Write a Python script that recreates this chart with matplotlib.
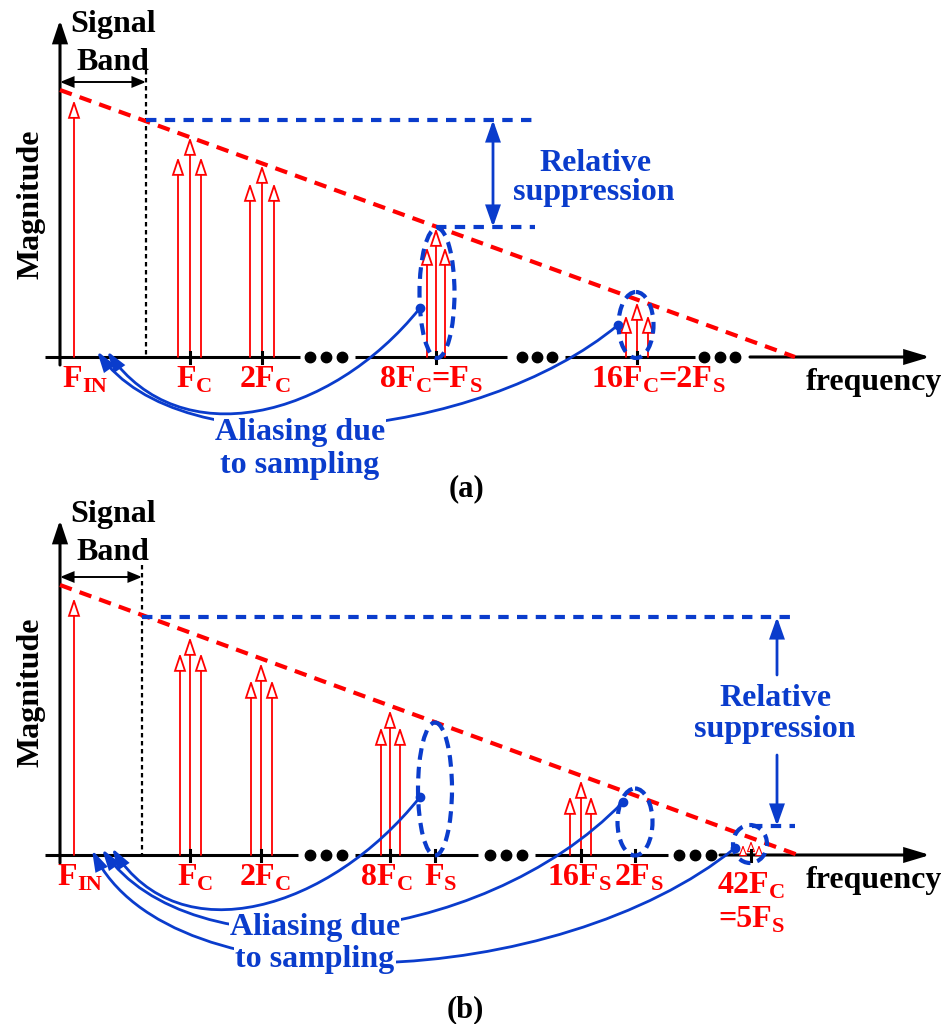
import numpy as np
import matplotlib
matplotlib.use('Agg')
import matplotlib.pyplot as plt
from matplotlib.patches import FancyArrowPatch, Ellipse, ArrowStyle
from matplotlib.path import Path

plt.rcParams['font.family'] = ['Liberation Serif', 'DejaVu Serif']
plt.rcParams['font.weight'] = 'bold'

RED = '#ff0000'
BLUE = '#0a3ccc'
FS = 23

# ---------------- data (pixel-like coordinates, y grows downward) ----------------
# panel (a)
a_base = 357
a_top = 20
a_band_x = 146
a_band_y = [70, 82]          # top of dashed line, double-arrow height
a_env = [(60, 90), (795, 357)]
a_fin = (74, 100)
a_groups_x = [[178, 190, 201], [250, 262, 274], [427, 436, 445], [626, 637, 648]]
a_groups_tip = [[157, 137, 157], [183, 165, 183], [247, 228, 247], [315, 302, 315]]
a_ticks = [190, 262, 436, 637]
a_axis_segs = [(45, 300), (355, 507), (565, 695), (750, 930)]
a_dots = [310, 326, 342, 522, 537, 552, 704, 720, 735]
a_ellipses = [(437, 293, 35, 130), (636, 325, 35, 66)]
a_supp = dict(top=120, bot=227, x0=146, x1=533, x2=436, x3=535, ax=493)
a_labels = [(85, [('F', 0), ('IN', 1)]), (194, [('F', 0), ('C', 1)]),
            (265, [('2F', 0), ('C', 1)]),
            (431, [('8F', 0), ('C', 1), ('=F', 0), ('S', 1)]),
            (658, [('16F', 0), ('C', 1), ('=2F', 0), ('S', 1)])]
a_label_y = 387
a_alias = [[(420, 308), (330, 420), (180, 455), (107, 351)],
           [(618, 325), (480, 440), (180, 470), (97, 351)]]

# panel (b)
b_base = 855
b_top = 520
b_band_x = 142
b_band_y = [565, 577]
b_env = [(60, 585), (798, 855)]
b_fin = (74, 598)
b_groups_x = [[180, 190, 201], [251, 261, 272], [381, 390, 400], [570, 581, 591], [743, 751, 759]]
b_groups_tip = [[653, 637, 653], [680, 663, 680], [727, 710, 727], [796, 780, 796], [845, 841, 845]]
b_ticks = [190, 261, 390, 435, 581, 635, 751]
b_axis_segs = [(45, 298), (355, 478), (535, 668), (720, 930)]
b_dots = [310, 326, 342, 490, 506, 522, 679, 695, 711]
b_ellipses = [(435, 789, 34, 133), (635, 822, 35, 67), (750, 844, 34, 38)]
b_supp = dict(top=617, bot=826, x0=142, x1=795, x2=752, x3=795, ax=777)
b_labels = [(80, [('F', 0), ('IN', 1)]), (195, [('F', 0), ('C', 1)]),
            (265, [('2F', 0), ('C', 1)]), (387, [('8F', 0), ('C', 1)]),
            (440, [('F', 0), ('S', 1)]), (579, [('16F', 0), ('S', 1)]),
            (639, [('2F', 0), ('S', 1)])]
b_label_y = 885
b_alias = [[(420, 797), (330, 910), (180, 955), (112, 848)],
           [(623, 802), (480, 950), (190, 975), (102, 849)],
           [(735, 848), (560, 990), (170, 1010), (92, 850)]]

# ---------------- figure ----------------
fig = plt.figure(figsize=(9.47, 10.24), dpi=100)
ax = fig.add_axes([0, 0, 1, 1])
ax.set_xlim(0, 947)
ax.set_ylim(1024, 0)
ax.axis('off')
renderer = fig.canvas.get_renderer()


def arrow(p0, p1, color, lw, hl, hw, fc=None, style='-|>', z=3, path=None):
    # hl = head length in px, hw = full head width in px
    st = ArrowStyle(style, head_length=hl * 0.72, head_width=hw * 0.36)
    kw = dict(arrowstyle=st, mutation_scale=1, color=color, lw=lw,
              shrinkA=0, shrinkB=0, zorder=z, joinstyle='miter')
    if path is not None:
        p = FancyArrowPatch(path=path, **kw)
    else:
        p = FancyArrowPatch(p0, p1, **kw)
    if fc is not None:
        p.set_facecolor(fc)
    ax.add_patch(p)


def rich(x, y, pieces, color, size=FS):
    # label made of normal text and subscripts, centred on x, baseline y
    objs = []
    for s, sub in pieces:
        t = ax.text(0, 0, s, color=color, fontsize=size * 0.7 if sub else size,
                    ha='left', va='baseline', zorder=9)
        w = t.get_window_extent(renderer).width
        objs.append((t, w, sub))
    cur = x - sum(o[1] for o in objs) / 2
    for t, w, sub in objs:
        t.set_position((cur, y + (5 if sub else 0)))
        cur += w


def panel(base, top, band_x, band_y, env, fin, gx, gt, ticks, segs, dots, ells,
          supp, labels, label_y, alias, sig_y, mag_y, supp_txt, alias_txt, small_last=False):
    # axes
    arrow((60, base + 8), (60, top), 'black', 2.2, 18, 12)
    for i, (x0, x1) in enumerate(segs):
        if i == len(segs) - 1:
            arrow((x0, base), (x1, base), 'black', 2.2, 20, 12)
        else:
            ax.plot([x0, x1], [base, base], color='black', lw=2.2, solid_capstyle='butt')
    ax.plot(dots, [base] * len(dots), 'o', color='black', ms=7.5)
    for t in ticks:
        ax.plot([t, t], [base - 5, base + 6], color='black', lw=2.2, zorder=5)

    # signal band
    ax.plot([band_x, band_x], [band_y[0], base], color='black', lw=1.6,
            linestyle=(0, (2, 1.6)))
    arrow((60, band_y[1]), (band_x, band_y[1]), 'black', 1.4, 11, 9, style='<|-|>')
    ax.text(113, sig_y[0], 'Signal', fontsize=FS, ha='center', va='baseline')
    ax.text(113, sig_y[1], 'Band', fontsize=FS, ha='center', va='baseline')
    ax.text(39, mag_y, 'Magnitude', fontsize=FS, rotation=90, rotation_mode='anchor',
            ha='center', va='baseline')

    # envelope
    ax.plot([env[0][0], env[1][0]], [env[0][1], env[1][1]], color=RED, lw=3,
            linestyle=(0, (3, 2)), zorder=4)

    # spectral lines
    arrow((fin[0], base), (fin[0], fin[1]), RED, 1.3, 15, 10, fc='white')
    for k, (xs, ts) in enumerate(zip(gx, gt)):
        small = small_last and k == len(gx) - 1
        for x, t in zip(xs, ts):
            if small:
                arrow((x, base), (x, t), RED, 0.8, 9, 7, fc='white')
            else:
                arrow((x, base), (x, t), RED, 1.3, 15, 10, fc='white')

    # ellipses
    for cx, cy, w, h in ells:
        ax.add_patch(Ellipse((cx, cy), w, h, fill=False, ec=BLUE, lw=3,
                             linestyle=(0, (2.8, 1.7)), zorder=6))

    # relative suppression
    ax.plot([supp['x0'], supp['x1']], [supp['top'], supp['top']], color=BLUE, lw=3,
            linestyle=(0, (2.5, 2)), zorder=4)
    ax.plot([supp['x2'], supp['x3']], [supp['bot'], supp['bot']], color=BLUE, lw=3,
            linestyle=(0, (2.5, 2)), zorder=4)
    if supp_txt is None:
        arrow((supp['ax'], supp['top']), (supp['ax'], supp['bot']), BLUE, 2, 17, 12,
              style='<|-|>')
    else:
        arrow((supp['ax'], supp_txt[0]), (supp['ax'], supp['top']), BLUE, 2, 17, 12)
        arrow((supp['ax'], supp_txt[1]), (supp['ax'], supp['bot']), BLUE, 2, 17, 12)

    # aliasing curves
    for pts in alias:
        path = Path(pts, [Path.MOVETO, Path.CURVE4, Path.CURVE4, Path.CURVE4])
        arrow(None, None, BLUE, 2, 16, 10, path=path, z=7)
        ax.plot(pts[0][0], pts[0][1], 'o', color=BLUE, ms=6, zorder=8)

    for x, pieces in labels:
        rich(x, label_y, pieces, RED)
    ax.text(874, label_y + 3, 'frequency', fontsize=FS, ha='center', va='baseline')

    bb = dict(facecolor='white', edgecolor='none', pad=1)
    ax.text(alias_txt[0], alias_txt[1], 'Aliasing due', color=BLUE, fontsize=FS,
            ha='center', va='baseline', bbox=bb, zorder=9)
    ax.text(alias_txt[0], alias_txt[2], 'to sampling', color=BLUE, fontsize=FS,
            ha='center', va='baseline', bbox=bb, zorder=9)


panel(a_base, a_top, a_band_x, a_band_y, a_env, a_fin, a_groups_x, a_groups_tip, a_ticks,
      a_axis_segs, a_dots, a_ellipses, a_supp, a_labels, a_label_y, a_alias,
      sig_y=(32, 70), mag_y=204, supp_txt=None, alias_txt=(300, 440, 473))
ax.text(596, 171, 'Relative', color=BLUE, fontsize=FS, ha='center', va='baseline')
ax.text(594, 200, 'suppression', color=BLUE, fontsize=FS, ha='center', va='baseline')
ax.text(467, 496, '(a)', fontsize=FS - 1, ha='center', va='baseline')

panel(b_base, b_top, b_band_x, b_band_y, b_env, b_fin, b_groups_x, b_groups_tip, b_ticks,
      b_axis_segs, b_dots, b_ellipses, b_supp, b_labels, b_label_y, b_alias,
      sig_y=(522, 560), mag_y=692, supp_txt=(675, 755),
      alias_txt=(315, 935, 967), small_last=True)
ax.text(775, 706, 'Relative', color=BLUE, fontsize=FS, ha='center', va='baseline')
ax.text(775, 737, 'suppression', color=BLUE, fontsize=FS, ha='center', va='baseline')
rich(751, 893, [('42F', 0), ('C', 1)], RED)
rich(751, 927, [('=5F', 0), ('S', 1)], RED)
ax.text(465, 1017, '(b)', fontsize=FS - 1, ha='center', va='baseline')

fig.savefig('out.png', dpi=100)
